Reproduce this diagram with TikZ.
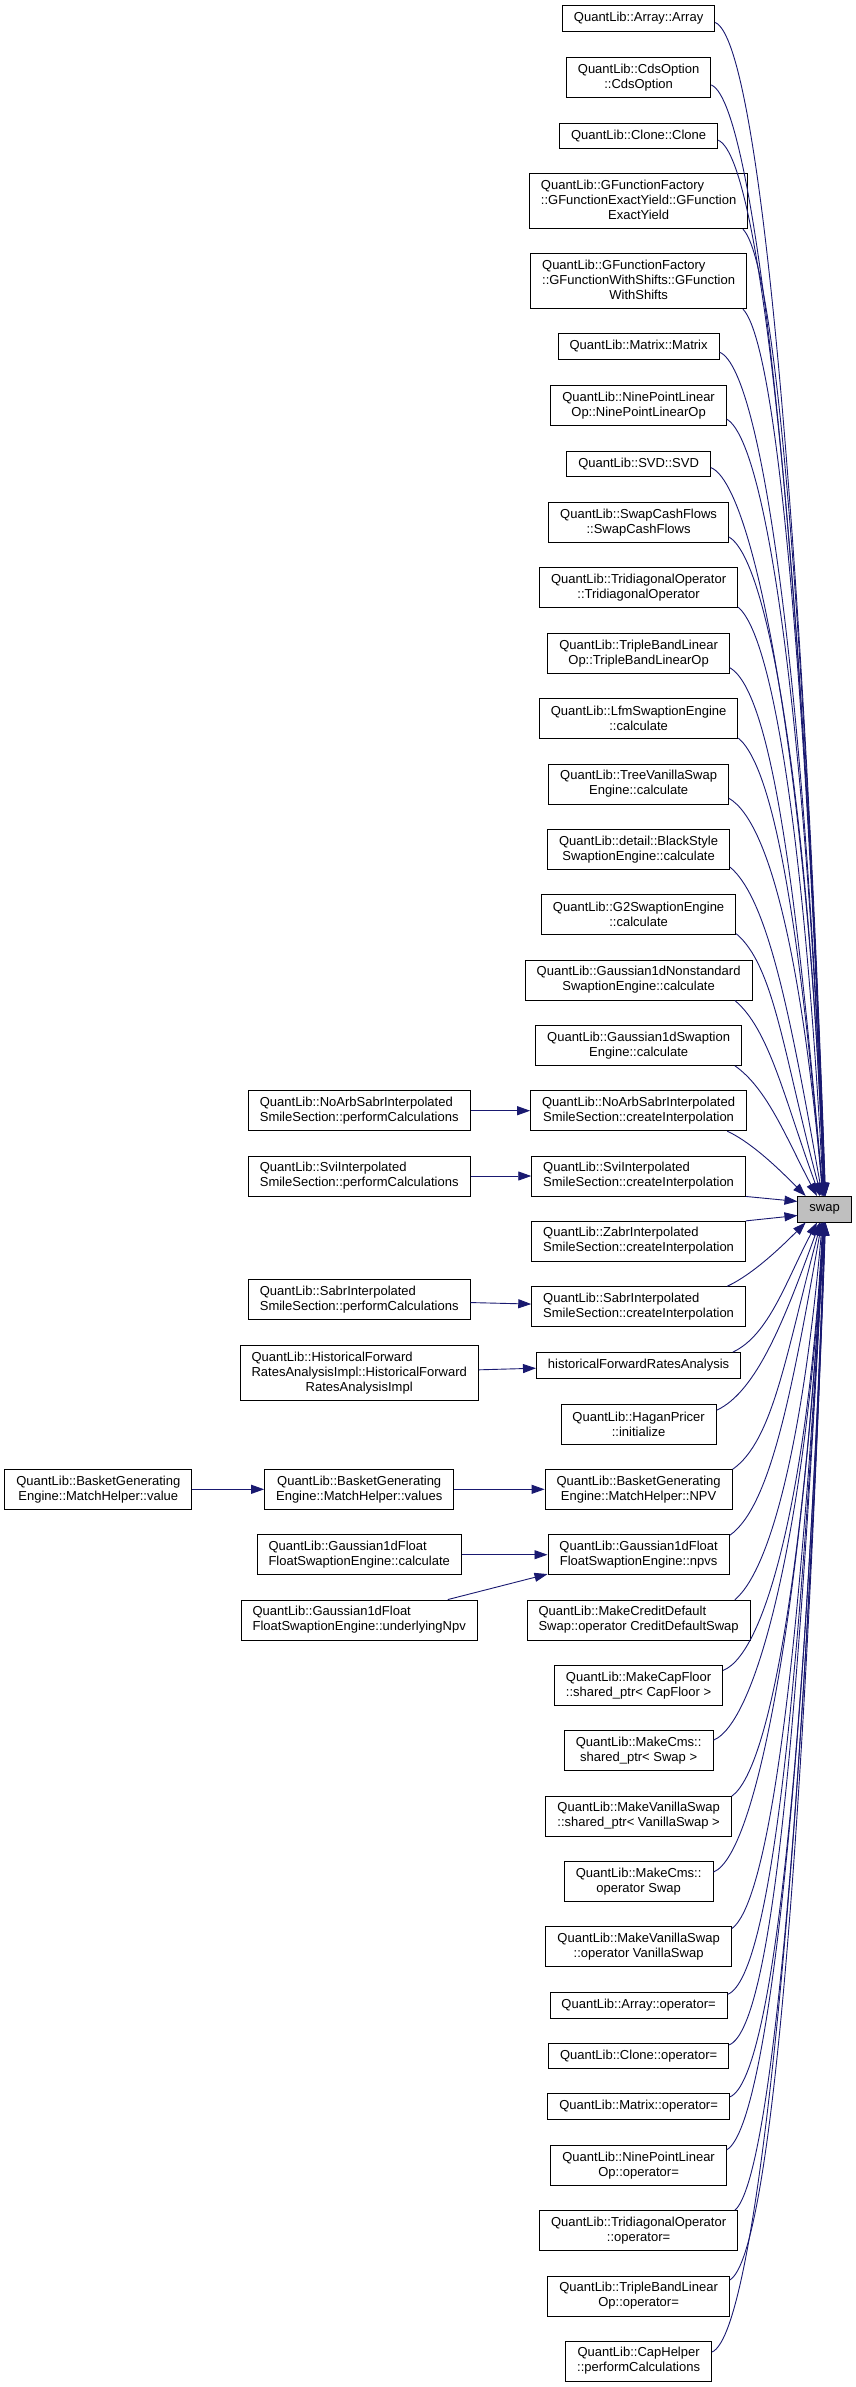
\documentclass[tikz,border=0pt]{standalone}
\usepackage{fontspec}
\setmainfont{Liberation Sans}
\usetikzlibrary{arrows.meta, calc}

\definecolor{edgeblue}{HTML}{191970}
\definecolor{focusgrey}{HTML}{BFBFBF}
% first lines flush left, last line centred (as graphviz does)
\newcommand{\lbl}[2]{\begin{tabular}{@{}l@{}}#1\\\multicolumn{1}{@{}c@{}}{#2}\end{tabular}}

\tikzset{
  fn/.style={draw=black, fill=white, line width=0.9pt, inner xsep=11.5pt, inner ysep=0pt,
    minimum height=25.6pt, align=center, font=\fontsize{13}{15}\selectfont},
  fn2/.style={fn, minimum height=40pt},
  fn3/.style={fn, minimum height=55pt},
  focus/.style={fn, fill=focusgrey},
  edge/.style={draw=edgeblue, line width=0.9pt, -{Triangle[length=13pt,width=9pt]}}
}

\begin{document}
\begin{tikzpicture}[x=1pt, y=1pt]
    \useasboundingbox (0,0) rectangle (856,-2387);

    \node [focus] (swap) at (824.6,-1209.2) {swap};

    % callers above swap
    \node [fn]  (arr)  at (638.6,-18.5)  {QuantLib::Array::Array};
    \node [fn2] (cds)  at (638.6,-77.3)  {QuantLib::CdsOption\\::CdsOption};
    \node [fn]  (clo)  at (638.6,-136)   {QuantLib::Clone::Clone};
    \node [fn3] (gfey) at (638.6,-201.2) {\lbl{QuantLib::GFunctionFactory\\::GFunctionExactYield::GFunction}{ExactYield}};
    \node [fn3] (gfws) at (638.6,-281.2) {\lbl{QuantLib::GFunctionFactory\\::GFunctionWithShifts::GFunction}{WithShifts}};
    \node [fn]  (mat)  at (638.6,-346.5) {QuantLib::Matrix::Matrix};
    \node [fn2] (npl)  at (638.6,-405.2) {QuantLib::NinePointLinear\\Op::NinePointLinearOp};
    \node [fn]  (svd)  at (638.6,-463.8) {QuantLib::SVD::SVD};
    \node [fn2] (scf)  at (638.6,-522.7) {QuantLib::SwapCashFlows\\::SwapCashFlows};
    \node [fn2] (tri)  at (638.6,-587.8) {QuantLib::TridiagonalOperator\\::TridiagonalOperator};
    \node [fn2] (tbl)  at (638.6,-653.2) {QuantLib::TripleBandLinear\\Op::TripleBandLinearOp};
    \node [fn2] (lfm)  at (638.6,-718.7) {QuantLib::LfmSwaptionEngine\\::calculate};
    \node [fn2] (tvs)  at (638.6,-784)   {QuantLib::TreeVanillaSwap\\Engine::calculate};
    \node [fn2] (bsw)  at (638.6,-849.3) {QuantLib::detail::BlackStyle\\SwaptionEngine::calculate};
    \node [fn2] (gts)  at (638.6,-914.7) {QuantLib::G2SwaptionEngine\\::calculate};
    \node [fn2] (gns)  at (638.6,-980)   {QuantLib::Gaussian1dNonstandard\\SwaptionEngine::calculate};
    \node [fn2] (gsw)  at (638.6,-1045.3) {QuantLib::Gaussian1dSwaption\\Engine::calculate};
    \node [fn2] (nacr) at (638.6,-1110.7) {\lbl{QuantLib::NoArbSabrInterpolated}{SmileSection::createInterpolation}};
    \node [fn2] (svicr) at (638.6,-1176) {\lbl{QuantLib::SviInterpolated}{SmileSection::createInterpolation}};

    % callers below swap
    \node [fn2] (zacr)   at (638.6,-1241.3) {\lbl{QuantLib::ZabrInterpolated}{SmileSection::createInterpolation}};
    \node [fn2] (sacr)   at (638.6,-1306.7) {\lbl{QuantLib::SabrInterpolated}{SmileSection::createInterpolation}};
    \node [fn]  (hfra)   at (638.6,-1365.3) {historicalForwardRatesAnalysis};
    \node [fn2] (hag)    at (638.6,-1424)   {QuantLib::HaganPricer\\::initialize};
    \node [fn2] (npv)    at (638.6,-1489.3) {QuantLib::BasketGenerating\\Engine::MatchHelper::NPV};
    \node [fn2] (npvs)   at (638.6,-1554.7) {QuantLib::Gaussian1dFloat\\FloatSwaptionEngine::npvs};
    \node [fn2] (mcds)   at (638.6,-1620.2) {\lbl{QuantLib::MakeCreditDefault}{Swap::operator CreditDefaultSwap}};
    \node [fn2] (mcf)    at (638.6,-1685.3) {QuantLib::MakeCapFloor\\::shared\_ptr< CapFloor >};
    \node [fn2] (mcms)   at (638.6,-1750.7) {QuantLib::MakeCms::\\shared\_ptr< Swap >};
    \node [fn2] (mvs)    at (638.6,-1816)   {QuantLib::MakeVanillaSwap\\::shared\_ptr< VanillaSwap >};
    \node [fn2] (mcmsop) at (638.6,-1881.3) {QuantLib::MakeCms::\\operator Swap};
    \node [fn2] (mvsop)  at (638.6,-1946.7) {QuantLib::MakeVanillaSwap\\::operator VanillaSwap};
    \node [fn]  (arrop)  at (638.6,-2005.3) {QuantLib::Array::operator=};
    \node [fn]  (cloop)  at (638.6,-2056)   {QuantLib::Clone::operator=};
    \node [fn]  (matop)  at (638.6,-2106.5) {QuantLib::Matrix::operator=};
    \node [fn2] (nplop)  at (638.6,-2165.3) {QuantLib::NinePointLinear\\Op::operator=};
    \node [fn2] (triop)  at (638.6,-2230.7) {QuantLib::TridiagonalOperator\\::operator=};
    \node [fn2] (tblop)  at (638.6,-2296)   {QuantLib::TripleBandLinear\\Op::operator=};
    \node [fn2] (caph)   at (638.6,-2361)   {QuantLib::CapHelper\\::performCalculations};

    % second level callers
    \node [fn2] (naperf)   at (359.2,-1110.7) {\lbl{QuantLib::NoArbSabrInterpolated}{SmileSection::performCalculations}};
    \node [fn2] (sviperf)  at (359.2,-1176)   {\lbl{QuantLib::SviInterpolated}{SmileSection::performCalculations}};
    \node [fn2] (saperf)   at (359.2,-1299.8) {\lbl{QuantLib::SabrInterpolated}{SmileSection::performCalculations}};
    \node [fn3] (hfraimpl) at (359.2,-1373.2) {\lbl{QuantLib::HistoricalForward\\RatesAnalysisImpl::HistoricalForward}{RatesAnalysisImpl}};
    \node [fn2] (mhvals)   at (359.2,-1489.3) {QuantLib::BasketGenerating\\Engine::MatchHelper::values};
    \node [fn2] (gfcalc)   at (359.2,-1554.7) {\lbl{QuantLib::Gaussian1dFloat}{FloatSwaptionEngine::calculate}};
    \node [fn2] (gfunder)  at (359.2,-1620)   {\lbl{QuantLib::Gaussian1dFloat}{FloatSwaptionEngine::underlyingNpv}};
    \node [fn2] (mhval)    at (98.3,-1489.3)  {QuantLib::BasketGenerating\\Engine::MatchHelper::value};

    % node / start anchor / out / out dist / end anchor / in / in dist
    \foreach \n/\a/\o/\od/\e/\i/\d in {
      arr/-3/-22/50/86/92/640, cds/-6/-22/50/87/92/610, clo/-3/-22/50/88/92/580,
      gfey/-15/-45/50/89/92/530, gfws/-15/-45/50/90/92/490, mat/-4/-22/50/91/92/460,
      npl/-9/-30/50/92/92/430, svd/-3/-22/50/93/92/400, scf/-9/-30/50/94/92/360,
      tri/-11/-40/50/95/93/320, tbl/-9/-30/50/96/95/290, lfm/-11/-40/50/97/95/250,
      tvs/-9/-30/50/98/95/220, bsw/-11/-40/50/100/100/180, gts/-11/-40/50/104/105/145,
      gns/-12/-40/45/110/110/105, gsw/-12/-35/40/120/118/65, nacr/-13/-25/30/145/135/30,
      sacr/13/25/30/215/-135/30, hfra/8/25/40/240/-118/65, hag/10/25/45/250/-110/100,
      npv/12/35/50/255/-105/135, npvs/12/35/50/258/-100/170, mcds/12/40/50/260/-95/205,
      mcf/10/22/50/262/-93/245, mcms/8/22/50/264/-93/285, mvs/12/35/50/265/-93/315,
      mcmsop/7/22/50/266/-93/355, mvsop/11/35/50/267/-93/390, arrop/7/22/50/268/-93/425,
      cloop/7/22/50/269/-93/450, matop/6/22/50/270/-92/480, nplop/10/30/50/271/-92/510,
      triop/12/40/50/272/-92/540, tblop/10/30/50/273/-92/580, caph/7/22/50/274/-92/620} {
      \draw [edge] (\n.\a) .. controls ($(\n.\a)+(\o:\od)$) and ($(swap.\e)+(\i:\d)$) .. (swap.\e);
    }
    \draw [edge] (svicr.south east) -- (swap.164);
    \draw [edge] (zacr.north east) -- (swap.193);

    \draw [edge] (naperf) -- (nacr);
    \draw [edge] (sviperf) -- (svicr);
    \draw [edge] (saperf) -- (sacr);
    \draw [edge] (hfraimpl) -- (hfra);
    \draw [edge] (mhval) -- (mhvals);
    \draw [edge] (mhvals) -- (npv);
    \draw [edge] (gfcalc) -- (npvs);
    \draw [edge] (gfunder.13) -- (npvs.192);
\end{tikzpicture}
\end{document}
